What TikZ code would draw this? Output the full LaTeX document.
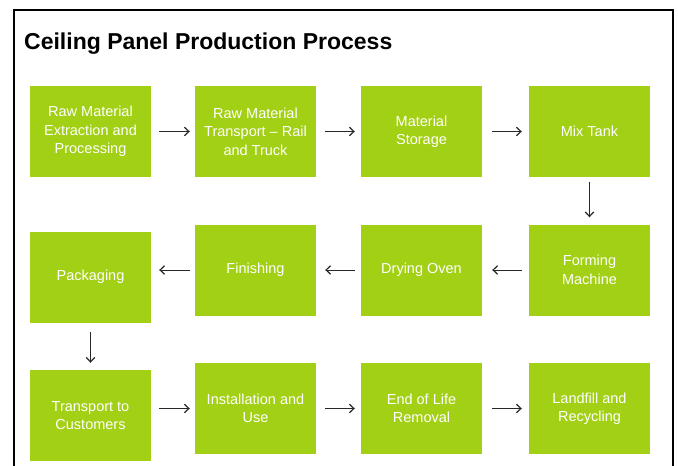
\documentclass[tikz,border=0pt]{standalone}
\usepackage{fontspec}
\setmainfont{Liberation Sans}
\usetikzlibrary{arrows.meta}
\definecolor{boxgreen}{RGB}{162,208,20}
\definecolor{arrowgray}{RGB}{40,40,40}
\tikzset{
  stepbox/.style={fill=boxgreen, draw=none, minimum width=121pt, minimum height=91pt,
    inner sep=0pt, align=center, text=white, font=\fontsize{14.5}{18.5}\selectfont},
  flow/.style={draw=arrowgray, line width=1pt, -{Straight Barb[length=4.5pt,width=8.5pt,line width=1.2pt]}},
}
\begin{document}
\begin{tikzpicture}[x=1pt,y=-1pt]
\useasboundingbox (0,0) rectangle (678,466);
\clip (0,0) rectangle (678,466);
\fill[white] (0,0) rectangle (678,466);
\draw[line width=2.5pt] (14,10) rectangle (673,480);
\node[anchor=base west, font=\bfseries\fontsize{23}{26}\selectfont, inner sep=0pt] (title) at (24,49) {Ceiling Panel Production Process};
% row 1
\node[stepbox] (a) at (90.5,131.5) {Raw Material\\Extraction and\\Processing};
\node[stepbox] (b) at (255.5,131.5) {Raw Material\\Transport -- Rail\\and Truck};
\node[stepbox] (c) at (421.5,131.5) {Material\\Storage};
\node[stepbox] (d) at (589.5,131.5) {Mix Tank};
% row 2
\node[stepbox] (e) at (589.5,270) {Forming\\Machine};
\node[stepbox] (f) at (421.5,270) {Drying Oven};
\node[stepbox] (g) at (255.5,270) {Finishing};
\node[stepbox] (h) at (90.5,277) {Packaging};
% row 3
\node[stepbox] (i) at (90.5,415.5) {Transport to\\Customers};
\node[stepbox] (j) at (255.5,408.5) {Installation and\\Use};
\node[stepbox] (k) at (421.5,408.5) {End of Life\\Removal};
\node[stepbox] (l) at (589.5,408.5) {Landfill and\\Recycling};
% connectors
\draw[flow] ([xshift=8pt]a.east |- 0,131.5) -- ([xshift=-5pt]b.west |- 0,131.5);
\draw[flow] ([xshift=9pt]b.east |- 0,131.5) -- ([xshift=-6pt]c.west |- 0,131.5);
\draw[flow] ([xshift=10pt]c.east |- 0,131.5) -- ([xshift=-7pt]d.west |- 0,131.5);
\draw[flow] ([yshift=-5pt]d.south) -- ([yshift=7pt]e.north);
\draw[flow] ([xshift=-7pt]e.west) -- ([xshift=10pt]f.east);
\draw[flow] ([xshift=-6pt]f.west) -- ([xshift=9pt]g.east);
\draw[flow] ([xshift=-5pt]g.west) -- ([xshift=8pt]h.east |- g.west);
\draw[flow] ([yshift=-9pt]h.south) -- ([yshift=7pt]i.north);
\draw[flow] ([xshift=8pt]i.east |- j.west) -- ([xshift=-5pt]j.west);
\draw[flow] ([xshift=9pt]j.east) -- ([xshift=-6pt]k.west);
\draw[flow] ([xshift=10pt]k.east) -- ([xshift=-7pt]l.west);
\end{tikzpicture}
\end{document}
